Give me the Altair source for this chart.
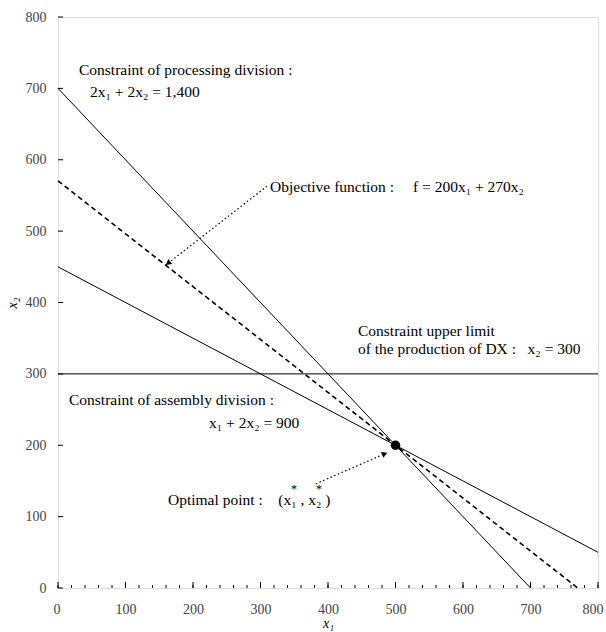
import altair as alt
import pandas as pd

# constraint / objective lines (endpoints in data units)
line_names = ["processing", "processing", "assembly", "assembly", "upper", "upper"]
line_x1 = [0, 700, 0, 800, 0, 800]
line_x2 = [700, 0, 450, 50, 300, 300]
obj_x1 = [0, 770]
obj_x2 = [570.4, 0]
opt_x1 = [500]
opt_x2 = [200]
# annotation arrows (start, end) in data units
arrow_names = ["obj", "obj", "opt", "opt"]
arrow_x1 = [311, 163, 382, 484]
arrow_x2 = [564, 455, 146, 188]
arrow_angles = [233, 67]
x_ticks = list(range(0, 801, 100))
y_ticks = list(range(0, 801, 100))
x_minor = list(range(0, 801, 20))

FONT = "Liberation Serif"
W, H = 540, 571
NB = "\u00a0"

xs = alt.Scale(domain=[0, 800], nice=False, zero=False)
ys = alt.Scale(domain=[0, 800], nice=False, zero=False)

lines_df = pd.DataFrame({"name": line_names, "x1": line_x1, "x2": line_x2})
obj_df = pd.DataFrame({"x1": obj_x1, "x2": obj_x2})
opt_df = pd.DataFrame({"x1": opt_x1, "x2": opt_x2})
arr_df = pd.DataFrame({"name": arrow_names, "x1": arrow_x1, "x2": arrow_x2})
head_df = pd.DataFrame({"x1": [arrow_x1[1], arrow_x1[3]],
                        "x2": [arrow_x2[1], arrow_x2[3]],
                        "ang": arrow_angles})
xminor_df = pd.DataFrame({"v": x_minor})
xmajor_df = pd.DataFrame({"v": x_ticks})
yt_df = pd.DataFrame({"v": y_ticks})

xaxis = alt.Axis(values=x_ticks, ticks=False, domain=False, grid=False,
                 labelFont=FONT, labelFontSize=14, labelColor="#444",
                 labelPadding=14, labelFlush=True, labelFlushOffset=5,
                 title="x\u2081", titleFont=FONT,
                 titleFontSize=14, titleFontWeight="normal", titlePadding=0,
                 titleFontStyle="italic")
yaxis = alt.Axis(values=y_ticks, ticks=False, domain=False, grid=False,
                 labelFont=FONT, labelFontSize=14, labelColor="#444",
                 labelPadding=12, labelFlush=False, title="x\u2082", titleFont=FONT,
                 titleFontSize=14, titleFontWeight="normal", titlePadding=6,
                 titleFontStyle="italic")

base_lines = alt.Chart(lines_df).mark_line(color="black", strokeWidth=1).encode(
    x=alt.X("x1:Q", scale=xs, axis=xaxis),
    y=alt.Y("x2:Q", scale=ys, axis=yaxis),
    detail="name:N",
)
obj_line = alt.Chart(obj_df).mark_line(color="black", strokeWidth=1.6,
                                       strokeDash=[5, 3.5]).encode(
    x=alt.X("x1:Q", scale=xs), y=alt.Y("x2:Q", scale=ys))
arrows = alt.Chart(arr_df).mark_line(color="black", strokeWidth=1.2,
                                     strokeDash=[1.5, 2.5]).encode(
    x=alt.X("x1:Q", scale=xs), y=alt.Y("x2:Q", scale=ys), detail="name:N")
heads = alt.Chart(head_df).mark_point(shape="triangle-up", filled=True,
                                      color="black", size=40, opacity=1).encode(
    x=alt.X("x1:Q", scale=xs), y=alt.Y("x2:Q", scale=ys),
    angle=alt.Angle("ang:Q", scale=None))
opt_pt = alt.Chart(opt_df).mark_point(shape="circle", filled=True, color="black",
                                      size=90, opacity=1).encode(
    x=alt.X("x1:Q", scale=xs), y=alt.Y("x2:Q", scale=ys))

xt_minor = alt.Chart(xminor_df).mark_rule(color="black", strokeWidth=1).encode(
    x=alt.X("v:Q", scale=xs), y=alt.value(H), y2=alt.value(H - 3))
xt_major = alt.Chart(xmajor_df).mark_rule(color="black", strokeWidth=1).encode(
    x=alt.X("v:Q", scale=xs), y=alt.value(H), y2=alt.value(H - 6))
yt = alt.Chart(yt_df).mark_rule(color="black", strokeWidth=1).encode(
    y=alt.Y("v:Q", scale=ys), x=alt.value(0), x2=alt.value(5))

def txt(s, px, py, size=15.5, style="normal"):
    return alt.Chart(pd.DataFrame({"t": [s]})).mark_text(
        font=FONT, fontSize=size, align="left", baseline="middle", color="black",
        fontStyle=style
    ).encode(text="t:N", x=alt.value(px), y=alt.value(py))

labels = [
    txt("Constraint of processing division :", 21, 53),
    txt("2x\u2081 + 2x\u2082 = 1,400", 32, 75),
    txt("Objective function :", 212, 170),
    txt("f = 200x\u2081 + 270x\u2082", 355, 170),
    txt("Constraint upper limit", 300, 314),
    txt("of the production of DX :" + NB * 3 + "x\u2082 = 300", 300, 332),
    txt("Constraint of assembly division :", 11, 383),
    txt("x\u2081 + 2x\u2082 = 900", 151, 406),
    txt("Optimal point :" + NB * 4 + "(x\u2081" + NB + ", x\u2082" + NB + ")", 110, 483),
    txt("*", 233, 472, size=12),
    txt("*", 258, 472, size=12),
]

chart = alt.layer(base_lines, obj_line, arrows, heads, opt_pt, xt_minor, xt_major,
                  yt, *labels).properties(
    width=W, height=H,
    autosize=alt.AutoSizeParams(type="none"),
    padding={"left": 58, "top": 17, "right": 8, "bottom": 44},
).configure_view(stroke="black", strokeWidth=1).configure(background="white")

chart.save("out.html", embed_options={"renderer": "svg", "actions": False})
